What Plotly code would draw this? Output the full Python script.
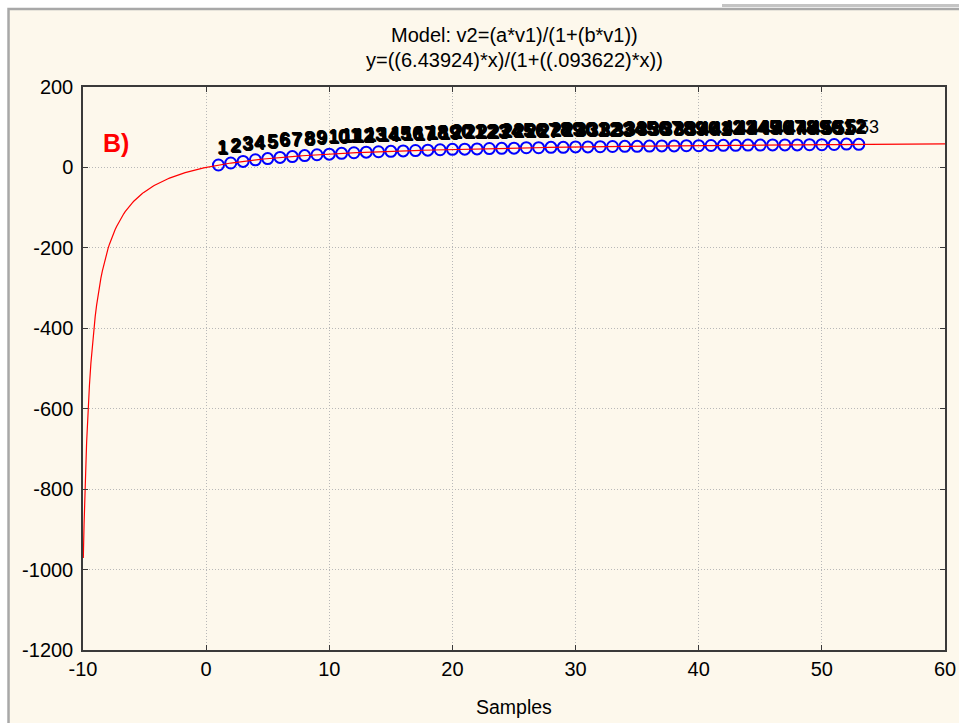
import numpy as np
import plotly.graph_objects as go

# Observed samples (v1 = sample number, v2 = measured value)
samples = list(range(1, 54))
values = [6, 11, 15, 19, 22, 25, 27, 29.5, 31.5, 33, 35, 36.5, 38, 39, 40, 41,
          42, 43, 44, 45, 45.5, 46, 47, 47.5, 48, 49, 49, 50, 50, 51, 51, 51.5,
          52, 52.5, 52.5, 53, 53.5, 53.5, 54, 54, 54.5, 55, 55, 55.5, 55.5, 56,
          56, 56, 56.5, 56.5, 57, 58, 57.5]
case_labels = [str(s) for s in samples]

# Fitted model parameters: v2 = (a*v1)/(1+(b*v1))
a_param = 6.43924
b_param = 0.093622

title_lines = ["Model: v2=(a*v1)/(1+(b*v1))", "y=((6.43924)*x)/(1+((.093622)*x))"]
x_ticks = [-10, 0, 10, 20, 30, 40, 50, 60]
y_ticks = [200, 0, -200, -400, -600, -800, -1000, -1200]

# model curve from just right of the pole at x = -1/b up to the axis end
x_curve = np.concatenate([-9.975 + np.geomspace(1e-4, 0.5, 200) - 1e-4,
                          np.linspace(-9.475, 60, 600)])
y_curve = a_param * x_curve / (1 + b_param * x_curve)

FONT = "Liberation Sans, Arial, sans-serif"
CREAM = "#fdf8ec"
# heavy outline so the crowded case numbers merge into a dark band
OUTLINE = ("1px 0 0 #000, -1px 0 0 #000, 0 1px 0 #000, 0 -1px 0 #000, "
           "1px 1px 0 #000, -1px -1px 0 #000")

fig = go.Figure()

fig.add_trace(go.Scatter(
    x=samples, y=values, mode="markers",
    marker=dict(symbol="circle-open", size=11, color="#0000ff",
                line=dict(width=2, color="#0000ff")),
    hoverinfo="skip", showlegend=False,
))

fig.add_trace(go.Scatter(
    x=x_curve, y=y_curve, mode="lines",
    line=dict(color="#ff0000", width=1.2),
    hoverinfo="skip", showlegend=False,
))

axis_common = dict(
    showline=True, linecolor="#3a3a3a", linewidth=1.5, mirror="ticks",
    ticks="inside", ticklen=5, tickcolor="#3a3a3a", tickwidth=1,
    showgrid=True, gridcolor="#b8b8b8", griddash="1px,2px", gridwidth=1,
    zeroline=False, automargin=False,
    tickfont=dict(family=FONT, size=20, color="#000000"),
)

# case-number labels sitting just above each observation
case_annotations = []
for i, (s, v, lab) in enumerate(zip(samples, values, case_labels)):
    last = i == len(samples) - 1
    case_annotations.append(dict(
        x=s, y=v, xref="x", yref="y", text=lab, showarrow=False,
        xanchor="left", yanchor="middle", xshift=-2, yshift=17,
        font=dict(family=FONT, size=18, color="#000000",
                  shadow="none" if last else OUTLINE)))

fig.update_layout(
    width=959, height=723,
    margin=dict(l=83, r=14, t=87, b=73),
    paper_bgcolor="#ffffff",
    plot_bgcolor="#ffffff",
    xaxis=dict(range=[-10, 60], tickvals=x_ticks,
               ticktext=[str(t) for t in x_ticks], **axis_common),
    yaxis=dict(range=[-1200, 200], tickvals=y_ticks,
               ticktext=[str(t) for t in y_ticks], ticklabelstandoff=4,
               **axis_common),
    shapes=[
        dict(type="rect", xref="paper", yref="paper", layer="below",
             x0=-0.0864, x1=1.05, y0=-0.2, y1=1.1385,
             fillcolor=CREAM, line=dict(color="#a8a8a8", width=2.5)),
        dict(type="rect", xref="paper", yref="paper", layer="below",
             x0=0.7413, x1=1.05, y0=1.1421, y1=1.1474,
             fillcolor="#c4c4c4", line=dict(width=0)),
    ],
    annotations=[
        dict(text=title_lines[0], xref="paper", yref="paper", x=0.5, y=1.0924,
             xanchor="center", yanchor="middle", showarrow=False,
             font=dict(family=FONT, size=20, color="#000000")),
        dict(text=title_lines[1], xref="paper", yref="paper", x=0.5, y=1.048,
             xanchor="center", yanchor="middle", showarrow=False,
             font=dict(family=FONT, size=20, color="#000000")),
        dict(text="Samples", xref="paper", yref="paper", x=0.5, y=-0.1012,
             xanchor="center", yanchor="middle", showarrow=False,
             font=dict(family=FONT, size=19.5, color="#000000")),
        dict(text="<b>B)</b>", xref="paper", yref="paper",
             x=(116 - 83) / 862, y=(650 - 143) / 563,
             xanchor="center", yanchor="middle", showarrow=False,
             font=dict(family=FONT, size=25, color="#ff0000")),
    ] + case_annotations,
)

fig.write_html("out.html")
